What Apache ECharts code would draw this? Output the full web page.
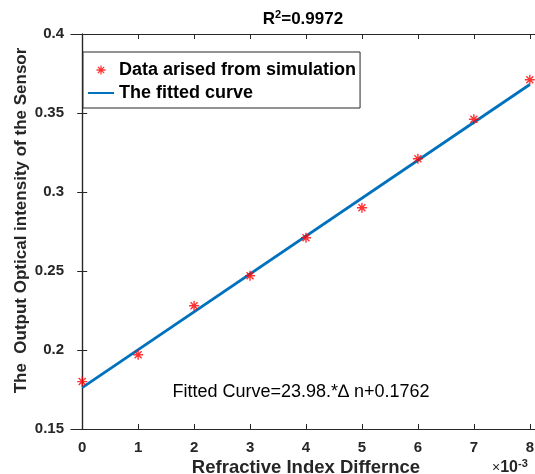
<!DOCTYPE html>
<html>
<head>
<meta charset="utf-8">
<script src="https://cdn.jsdelivr.net/npm/echarts@6/dist/echarts.min.js"></script>
<style>html,body{margin:0;padding:0;background:#fff}#c{width:535px;height:474px}</style>
</head>
<body>
<div id="c"></div>
<script>
// x in units of 1e-3
const deltaN = [0, 1, 2, 3, 4, 5, 6, 7, 8];
const intensity = [0.180, 0.197, 0.228, 0.247, 0.271, 0.290, 0.321, 0.346, 0.371];
const fitSlope = 23.98;      // per unit of delta n
const fitIntercept = 0.1762;
const fitX = [0, 8];
const xTicks = [0, 1, 2, 3, 4, 5, 6, 7, 8];

const fitLine = fitX.map(x => [x, fitSlope * x * 1e-3 + fitIntercept]);
const pts = deltaN.map((x, i) => [x, intensity[i]]);

const star = 'path://M8.6 0L11.4 0L11.4 20L8.6 20ZM0 8.6L20 8.6L20 11.4L0 11.4ZM2 4L4 2L18 16L16 18ZM16 2L18 4L4 18L2 16Z';
const FONT = 'Liberation Sans';

const chart = echarts.init(document.getElementById('c'), null, {renderer: 'canvas'});
const tickStyle = {show: true, inside: true, length: 5, lineStyle: {color: '#262626', width: 1}};
const lineStyleAx = {show: true, lineStyle: {color: '#262626', width: 1.2}};
chart.setOption({
  animation: false,
  backgroundColor: '#fff',
  grid: {left: 71, top: 34, right: -6, bottom: 45, containLabel: false, outerBoundsMode: 'none'},
  xAxis: [{
    type: 'value', min: -0.2, max: 8.2, position: 'bottom',
    axisLine: lineStyleAx, splitLine: {show: false},
    axisLabel: {
      color: '#262626', fontFamily: FONT, fontWeight: 'bold', fontSize: 15, margin: 11,
      customValues: xTicks, formatter: v => String(Math.round(v))
    },
    axisTick: Object.assign({}, tickStyle, {customValues: xTicks}),
    name: 'Refractive Index Differnce', nameLocation: 'middle', nameGap: 29, nameMoveOverlap: false,
    nameTextStyle: {color: '#262626', fontFamily: FONT, fontWeight: 'bold', fontSize: 18.5}
  }, {
    type: 'value', min: -0.2, max: 8.2, position: 'top',
    axisLine: lineStyleAx, splitLine: {show: false}, axisLabel: {show: false},
    axisTick: Object.assign({}, tickStyle, {customValues: xTicks})
  }],
  yAxis: [{
    type: 'value', min: 0.15, max: 0.4, interval: 0.05, position: 'left',
    axisLine: lineStyleAx, axisTick: tickStyle, splitLine: {show: false},
    axisLabel: {
      color: '#262626', fontFamily: FONT, fontWeight: 'bold', fontSize: 15, margin: 7,
      formatter: v => String(+v.toFixed(2))
    },
    name: 'The  Output Optical intensity of the Sensor', nameLocation: 'middle', nameGap: 41, nameMoveOverlap: false,
    nameTextStyle: {color: '#262626', fontFamily: FONT, fontWeight: 'bold', fontSize: 17, padding: [0, 0, 0, 22]}
  }, {
    type: 'value', min: 0.15, max: 0.4, interval: 0.05, position: 'right',
    axisLine: lineStyleAx, axisTick: tickStyle, splitLine: {show: false}, axisLabel: {show: false}
  }],
  legend: {
    orient: 'vertical', left: 83, top: 52,
    backgroundColor: '#fff', borderColor: '#262626', borderWidth: 1,
    padding: [9, 4, 6, 4], itemGap: 5, itemWidth: 26, itemHeight: 9,
    textStyle: {color: '#000', fontFamily: FONT, fontWeight: 'bold', fontSize: 18},
    data: [
      {name: 'Data arised from simulation'},
      {name: 'The fitted curve', itemStyle: {opacity: 0, color: 'rgba(0,0,0,0)', borderWidth: 0}}
    ]
  },
  series: [{
    name: 'Data arised from simulation', type: 'scatter', data: pts,
    symbol: star, symbolSize: 10, symbolKeepAspect: true,
    itemStyle: {color: '#ff0000'}, z: 3
  }, {
    name: 'The fitted curve', type: 'line', data: fitLine, showSymbol: false, symbol: 'none',
    lineStyle: {color: '#0072BD', width: 2.8}, itemStyle: {color: '#0072BD'}, z: 2
  }],
  graphic: [{
    type: 'text', x: 303, y: 19,
    style: {
      text: '{a|R}{s|2}{a|=0.9972}', textAlign: 'center', textVerticalAlign: 'middle',
      rich: {
        a: {fontFamily: FONT, fontWeight: 'bold', fontSize: 17, fill: '#000'},
        s: {fontFamily: FONT, fontWeight: 'bold', fontSize: 11, fill: '#000', padding: [0, 0, 9, 0]}
      }
    }
  }, {
    type: 'text', x: 301, y: 392,
    style: {
      text: 'Fitted Curve=23.98.*\u2206 n+0.1762', textAlign: 'center', textVerticalAlign: 'middle',
      fontFamily: FONT, fontSize: 18, fill: '#000'
    }
  }, {
    type: 'text', x: 492, y: 468,
    style: {
      text: '{m|\u00d7}{a|10}{s|-3}', textVerticalAlign: 'middle',
      rich: {
        m: {fontFamily: FONT, fontSize: 14, fill: '#262626'},
        a: {fontFamily: FONT, fontWeight: 'bold', fontSize: 16, fill: '#262626'},
        s: {fontFamily: FONT, fontWeight: 'bold', fontSize: 11, fill: '#262626', padding: [0, 0, 9, 0]}
      }
    }
  }]
});
</script>
</body>
</html>
